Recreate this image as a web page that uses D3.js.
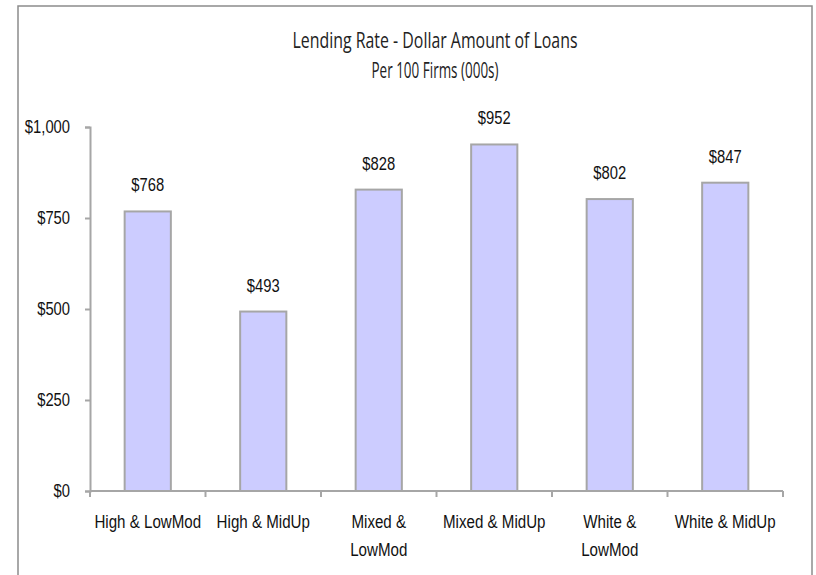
<!DOCTYPE html>
<html><head><meta charset="utf-8">
<script src="https://cdn.jsdelivr.net/npm/d3@7"></script>
<style>body{margin:0;background:#fff}svg{display:block}</style>
</head><body><svg id="c" width="816" height="575"></svg>
<script>
const categories = [["High & LowMod"],["High & MidUp"],["Mixed &","LowMod"],["Mixed & MidUp"],["White &","LowMod"],["White & MidUp"]];
const values = [768, 493, 828, 952, 802, 847];
const yTicks = [0, 250, 500, 750, 1000];
const titleLines = ["Lending Rate - Dollar Amount of Loans", "Per 100 Firms (000s)"];

const svg = d3.select("#c");
const font = "'Liberation Sans',Arial,sans-serif";
function condense(sel, k){
  sel.each(function(){
    const L = this.getComputedTextLength();
    d3.select(this).attr("textLength", L*k).attr("lengthAdjust","spacingAndGlyphs");
  });
}
svg.append("rect").attr("x",18).attr("y",6).attr("width",794).attr("height",590)
  .attr("fill","#fff").attr("stroke","#8c8c8c").attr("stroke-width",1.5);

const x = d3.scaleBand().domain(d3.range(categories.length)).range([90,783]);
const y = d3.scaleLinear().domain([0,1000]).range([491,127]);

// title
svg.selectAll("text.title").data(titleLines).enter().append("text")
  .attr("x",435).attr("y",(d,i)=>48+i*30).attr("text-anchor","middle")
  .attr("font-family","'Open Sans','Liberation Sans',sans-serif").attr("font-size",21)
  .attr("fill","#222").attr("textLength",(d,i)=>i===0?285:127).attr("lengthAdjust","spacingAndGlyphs")
  .text(d=>d);

// bars
const bw = x.bandwidth()*0.4;
svg.selectAll("rect.bar").data(values).enter().append("rect")
  .attr("x",(d,i)=>x(i)+x.bandwidth()/2-bw/2).attr("y",d=>y(d))
  .attr("width",bw).attr("height",d=>y(0)-y(d))
  .attr("fill","#ccccff").attr("stroke","#a6a6a6").attr("stroke-width",2);

// value labels
const vl = svg.selectAll("text.val").data(values).enter().append("text")
  .attr("x",(d,i)=>x(i)+x.bandwidth()/2).attr("y",d=>y(d)-20)
  .attr("text-anchor","middle").attr("font-family",font).attr("font-size",18).attr("fill","#111")
  .text(d=>"$"+d3.format(",")(d));
condense(vl, 0.82);

// y axis
const yAxis = svg.append("g").attr("transform","translate(90,0)")
  .call(d3.axisLeft(y).tickValues(yTicks).tickSize(5).tickPadding(15).tickFormat(d=>"$"+d3.format(",")(d)));
yAxis.select(".domain").attr("stroke","#a6a6a6").attr("stroke-width",2);
yAxis.selectAll(".tick line").attr("stroke","#a6a6a6").attr("stroke-width",2);
const yt = yAxis.selectAll(".tick text").attr("font-family",font).attr("font-size",18).attr("fill","#111");
condense(yt, 0.82);

// x axis
const xAxis = svg.append("g").attr("transform","translate(0,491)");
xAxis.append("line").attr("x1",90).attr("x2",783).attr("stroke","#a6a6a6").attr("stroke-width",2);
const bounds = d3.range(categories.length+1).map(i=> i<categories.length ? x(i) : x(categories.length-1)+x.bandwidth());
xAxis.selectAll("line.tk").data(bounds).enter().append("line")
  .attr("x1",d=>d).attr("x2",d=>d).attr("y1",0).attr("y2",6)
  .attr("stroke","#a6a6a6").attr("stroke-width",2);
const lab = xAxis.selectAll("text.cat").data(categories).enter().append("text")
  .attr("text-anchor","middle").attr("font-family",font).attr("font-size",18).attr("fill","#111")
  .attr("transform",(d,i)=>`translate(${x(i)+x.bandwidth()/2},37)`);
const ts = lab.selectAll("tspan").data(d=>d).enter().append("tspan")
  .attr("x",0).attr("dy",(d,i)=>i===0?0:28).text(d=>d);
condense(ts, 0.84);
</script></body></html>
